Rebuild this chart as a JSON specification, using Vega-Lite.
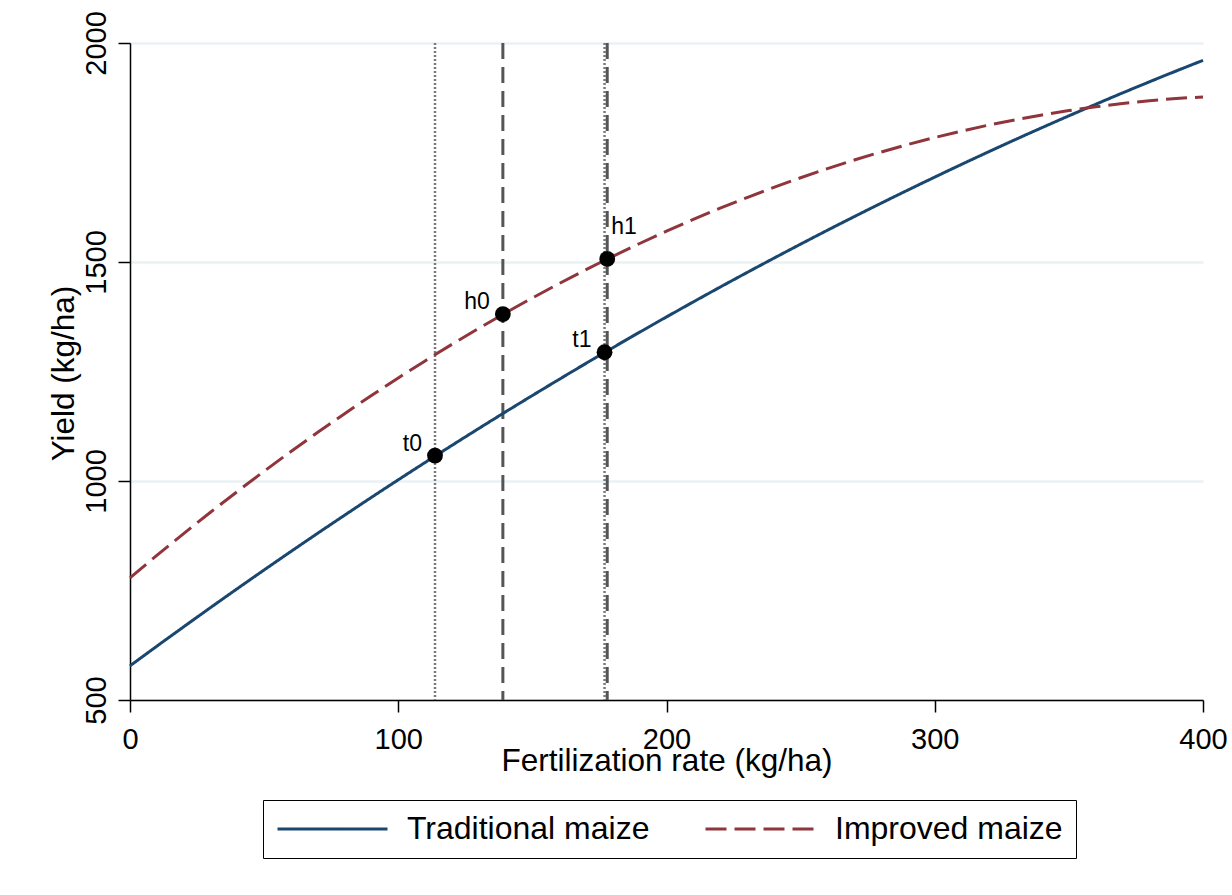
{
  "$schema": "https://vega.github.io/schema/vega-lite/v6.json",
  "autosize": "none",
  "padding": {"left": 130, "top": 43, "right": 29, "bottom": 195},
  "width": 1073,
  "height": 657,
  "background": "white",
  "config": {
    "view": {"stroke": null},
    "font": "Liberation Sans",
    "axis": {"labelFont": "Liberation Sans", "titleFont": "Liberation Sans", "labelColor": "black", "titleColor": "black", "domainColor": "black", "tickColor": "black", "domainWidth": 1.5, "tickWidth": 1.5, "titleFontWeight": "normal"}
  },
  "datasets": {
    "curves": [
      {"x": 0, "yield": 578, "variety": "Traditional maize"},
      {"x": 10, "yield": 622.8, "variety": "Traditional maize"},
      {"x": 20, "yield": 667.1, "variety": "Traditional maize"},
      {"x": 30, "yield": 710.9, "variety": "Traditional maize"},
      {"x": 40, "yield": 754.2, "variety": "Traditional maize"},
      {"x": 50, "yield": 796.9, "variety": "Traditional maize"},
      {"x": 60, "yield": 839.1, "variety": "Traditional maize"},
      {"x": 70, "yield": 880.8, "variety": "Traditional maize"},
      {"x": 80, "yield": 921.9, "variety": "Traditional maize"},
      {"x": 90, "yield": 962.6, "variety": "Traditional maize"},
      {"x": 100, "yield": 1002.7, "variety": "Traditional maize"},
      {"x": 110, "yield": 1042.2, "variety": "Traditional maize"},
      {"x": 120, "yield": 1081.3, "variety": "Traditional maize"},
      {"x": 130, "yield": 1119.8, "variety": "Traditional maize"},
      {"x": 140, "yield": 1157.8, "variety": "Traditional maize"},
      {"x": 150, "yield": 1195.2, "variety": "Traditional maize"},
      {"x": 160, "yield": 1232.1, "variety": "Traditional maize"},
      {"x": 170, "yield": 1268.6, "variety": "Traditional maize"},
      {"x": 180, "yield": 1304.4, "variety": "Traditional maize"},
      {"x": 190, "yield": 1339.8, "variety": "Traditional maize"},
      {"x": 200, "yield": 1374.6, "variety": "Traditional maize"},
      {"x": 210, "yield": 1408.9, "variety": "Traditional maize"},
      {"x": 220, "yield": 1442.7, "variety": "Traditional maize"},
      {"x": 230, "yield": 1475.9, "variety": "Traditional maize"},
      {"x": 240, "yield": 1508.6, "variety": "Traditional maize"},
      {"x": 250, "yield": 1540.8, "variety": "Traditional maize"},
      {"x": 260, "yield": 1572.5, "variety": "Traditional maize"},
      {"x": 270, "yield": 1603.6, "variety": "Traditional maize"},
      {"x": 280, "yield": 1634.2, "variety": "Traditional maize"},
      {"x": 290, "yield": 1664.3, "variety": "Traditional maize"},
      {"x": 300, "yield": 1693.8, "variety": "Traditional maize"},
      {"x": 310, "yield": 1722.9, "variety": "Traditional maize"},
      {"x": 320, "yield": 1751.4, "variety": "Traditional maize"},
      {"x": 330, "yield": 1779.4, "variety": "Traditional maize"},
      {"x": 340, "yield": 1806.8, "variety": "Traditional maize"},
      {"x": 350, "yield": 1833.7, "variety": "Traditional maize"},
      {"x": 360, "yield": 1860.1, "variety": "Traditional maize"},
      {"x": 370, "yield": 1886.0, "variety": "Traditional maize"},
      {"x": 380, "yield": 1911.3, "variety": "Traditional maize"},
      {"x": 390, "yield": 1936.1, "variety": "Traditional maize"},
      {"x": 400, "yield": 1960.4, "variety": "Traditional maize"},
      {"x": 0, "yield": 779, "variety": "Improved maize"},
      {"x": 10, "yield": 830.1, "variety": "Improved maize"},
      {"x": 20, "yield": 879.9, "variety": "Improved maize"},
      {"x": 30, "yield": 928.6, "variety": "Improved maize"},
      {"x": 40, "yield": 976.0, "variety": "Improved maize"},
      {"x": 50, "yield": 1022.3, "variety": "Improved maize"},
      {"x": 60, "yield": 1067.3, "variety": "Improved maize"},
      {"x": 70, "yield": 1111.1, "variety": "Improved maize"},
      {"x": 80, "yield": 1153.7, "variety": "Improved maize"},
      {"x": 90, "yield": 1195.1, "variety": "Improved maize"},
      {"x": 100, "yield": 1235.2, "variety": "Improved maize"},
      {"x": 110, "yield": 1274.2, "variety": "Improved maize"},
      {"x": 120, "yield": 1311.9, "variety": "Improved maize"},
      {"x": 130, "yield": 1348.5, "variety": "Improved maize"},
      {"x": 140, "yield": 1383.8, "variety": "Improved maize"},
      {"x": 150, "yield": 1417.9, "variety": "Improved maize"},
      {"x": 160, "yield": 1450.8, "variety": "Improved maize"},
      {"x": 170, "yield": 1482.5, "variety": "Improved maize"},
      {"x": 180, "yield": 1513.0, "variety": "Improved maize"},
      {"x": 190, "yield": 1542.2, "variety": "Improved maize"},
      {"x": 200, "yield": 1570.3, "variety": "Improved maize"},
      {"x": 210, "yield": 1597.1, "variety": "Improved maize"},
      {"x": 220, "yield": 1622.8, "variety": "Improved maize"},
      {"x": 230, "yield": 1647.1, "variety": "Improved maize"},
      {"x": 240, "yield": 1670.4, "variety": "Improved maize"},
      {"x": 250, "yield": 1692.4, "variety": "Improved maize"},
      {"x": 260, "yield": 1713.2, "variety": "Improved maize"},
      {"x": 270, "yield": 1732.8, "variety": "Improved maize"},
      {"x": 280, "yield": 1751.1, "variety": "Improved maize"},
      {"x": 290, "yield": 1768.2, "variety": "Improved maize"},
      {"x": 300, "yield": 1784.2, "variety": "Improved maize"},
      {"x": 310, "yield": 1798.9, "variety": "Improved maize"},
      {"x": 320, "yield": 1812.4, "variety": "Improved maize"},
      {"x": 330, "yield": 1824.7, "variety": "Improved maize"},
      {"x": 340, "yield": 1835.8, "variety": "Improved maize"},
      {"x": 350, "yield": 1845.7, "variety": "Improved maize"},
      {"x": 360, "yield": 1854.4, "variety": "Improved maize"},
      {"x": 370, "yield": 1861.9, "variety": "Improved maize"},
      {"x": 380, "yield": 1868.1, "variety": "Improved maize"},
      {"x": 390, "yield": 1873.1, "variety": "Improved maize"},
      {"x": 400, "yield": 1876.9, "variety": "Improved maize"}
    ],
    "vlines": [
      {"x": 113.7, "kind": "dotted"},
      {"x": 139.0, "kind": "dashed"},
      {"x": 176.9, "kind": "dotted"},
      {"x": 177.9, "kind": "dashed"}
    ],
    "points": [
      {"x": 113.7, "yield": 1058, "label": "t0"},
      {"x": 139.0, "yield": 1381, "label": "h0"},
      {"x": 176.9, "yield": 1294, "label": "t1"},
      {"x": 177.9, "yield": 1507, "label": "h1"}
    ]
  },
  "layer": [
    {
      "data": {"name": "vlines"},
      "transform": [{"filter": "datum.kind === 'dotted'"}],
      "mark": {"type": "rule", "color": "#7a7a7a", "strokeWidth": 2.5, "strokeDash": [2, 2]},
      "encoding": {"x": {"field": "x", "type": "quantitative"}}
    },
    {
      "data": {"name": "vlines"},
      "transform": [{"filter": "datum.kind === 'dashed'"}],
      "mark": {"type": "rule", "color": "#555555", "strokeWidth": 3, "strokeDash": [16, 8]},
      "encoding": {"x": {"field": "x", "type": "quantitative"}}
    },
    {
      "data": {"name": "curves"},
      "mark": {"type": "line", "strokeWidth": 3, "interpolate": "monotone"},
      "encoding": {
        "x": {
          "field": "x", "type": "quantitative",
          "scale": {"domain": [0, 400], "nice": false, "zero": false},
          "axis": {
            "title": "Fertilization rate (kg/ha)",
            "values": [0, 100, 200, 300, 400],
            "format": "d",
            "grid": false,
            "tickSize": 12,
            "labelFontSize": 29,
            "labelBaseline": "alphabetic",
            "labelPadding": 36,
            "labelFlush": false,
            "titleFontSize": 31.5,
            "titleBaseline": "alphabetic",
            "titleY": 70
          }
        },
        "y": {
          "field": "yield", "type": "quantitative",
          "scale": {"domain": [500, 2000], "nice": false, "zero": false},
          "axis": {
            "title": "Yield (kg/ha)",
            "values": [500, 1000, 1500, 2000],
            "format": "d",
            "grid": true,
            "gridColor": "#EAF2F3",
            "gridWidth": 2.5,
            "tickSize": 12,
            "labelFontSize": 29,
            "labelAngle": 270,
            "labelAlign": "center",
            "labelBaseline": "alphabetic",
            "labelPadding": 13,
            "labelFlush": false,
            "titleFontSize": 31.5,
            "titleAngle": 270,
            "titleBaseline": "alphabetic",
            "titleX": -57,
            "titleY": 330
          }
        },
        "color": {
          "field": "variety", "type": "nominal",
          "scale": {"domain": ["Traditional maize", "Improved maize"], "range": ["#1a476f", "#90353b"]},
          "legend": {
            "title": null,
            "orient": "none",
            "legendX": 133,
            "legendY": 757,
            "direction": "horizontal",
            "strokeColor": "black",
            "fillColor": "white",
            "padding": 13,
            "symbolType": "stroke",
            "symbolSize": 12100,
            "symbolStrokeWidth": 3,
            "clipHeight": 32,
            "labelFontSize": 32,
            "labelFont": "Liberation Sans",
            "labelColor": "black",
            "labelOffset": 18,
            "columnPadding": 54,
            "labelLimit": 400,
            "encode": {
              "symbols": {
                "update": {
                  "strokeDash": {"signal": "datum.label === 'Improved maize' ? [30, 8] : [1, 0]"}
                }
              }
            }
          }
        },
        "strokeDash": {
          "field": "variety", "type": "nominal",
          "scale": {"domain": ["Traditional maize", "Improved maize"], "range": [[1, 0], [21, 8]]},
          "legend": null
        }
      }
    },
    {
      "data": {"name": "points"},
      "mark": {"type": "point", "filled": true, "color": "black", "size": 250, "opacity": 1},
      "encoding": {
        "x": {"field": "x", "type": "quantitative"},
        "y": {"field": "yield", "type": "quantitative"}
      }
    },
    {
      "data": {"name": "points"},
      "transform": [{"filter": "datum.label !== 'h1'"}],
      "mark": {"type": "text", "align": "right", "baseline": "alphabetic", "dx": -13, "dy": -5, "fontSize": 23, "color": "black"},
      "encoding": {
        "x": {"field": "x", "type": "quantitative"},
        "y": {"field": "yield", "type": "quantitative"},
        "text": {"field": "label"}
      }
    },
    {
      "data": {"name": "points"},
      "transform": [{"filter": "datum.label === 'h1'"}],
      "mark": {"type": "text", "align": "left", "baseline": "alphabetic", "dx": 4, "dy": -25, "fontSize": 23, "color": "black"},
      "encoding": {
        "x": {"field": "x", "type": "quantitative"},
        "y": {"field": "yield", "type": "quantitative"},
        "text": {"field": "label"}
      }
    }
  ]
}
